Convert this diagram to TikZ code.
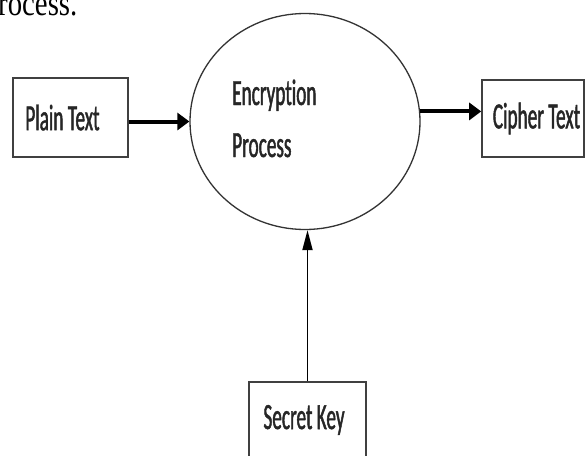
\documentclass[tikz,border=0pt]{standalone}
\usepackage{fontspec}
\usetikzlibrary{arrows.meta,shapes.geometric}
\newfontfamily\lblfont[FakeStretch=0.52,FakeBold=1.2,Ligatures=NoCommon]{Carlito}
\newfontfamily\bodyfont[FakeStretch=0.8]{Liberation Serif}

\begin{document}
\begin{tikzpicture}[x=1pt,y=-1pt,
  lbl/.style={font=\lblfont\fontsize{37}{52}\selectfont, text=black!85, inner sep=0pt},
  databox/.style={draw=black!75, line width=1.6pt, rectangle, inner sep=0pt},
  proc/.style={draw=black!80, line width=1.3pt, ellipse, inner sep=0pt,
               minimum width=230pt, minimum height=216pt},
  thickflow/.style={-{Triangle[length=12pt,width=17pt]}, line width=4pt},
  thinflow/.style={-{Triangle[length=20pt,width=10pt]}, line width=1.8pt}]
\useasboundingbox (0,0) rectangle (586,455);
\fill[white] (0,0) rectangle (586,455);

% end of the running text above the figure
\node[font=\bodyfont\fontsize{36}{40}\selectfont, anchor=base west, inner sep=0pt]
  (tail) at (-2,15.5) {rocess.};

% data stores and the process
\node[databox, lbl, minimum width=115pt, minimum height=79pt] (plain) at (70.5,117.5) {Plain Text\hspace*{16pt}};
\node[databox, lbl, minimum width=102pt, minimum height=77pt] (cipher) at (533,118.5) {\hspace*{7pt}Cipher Text};
\node[databox, lbl, minimum width=117pt, minimum height=76pt] (key) at (307.5,420) {Secret Key\hspace*{7pt}};
\node[proc] (enc) at (305,121.5) {};
\node[lbl, align=left, anchor=base west] (enctext) at (232,157) {Encryption\\Process};

% flows
\draw[thickflow] (plain.east |- enc.west) -- (enc.west);
\draw[thickflow] (enc.5) -- (cipher.west |- enc.5);
\draw[thinflow] (key.north) -- (key.north |- enc.south);
\end{tikzpicture}
\end{document}
